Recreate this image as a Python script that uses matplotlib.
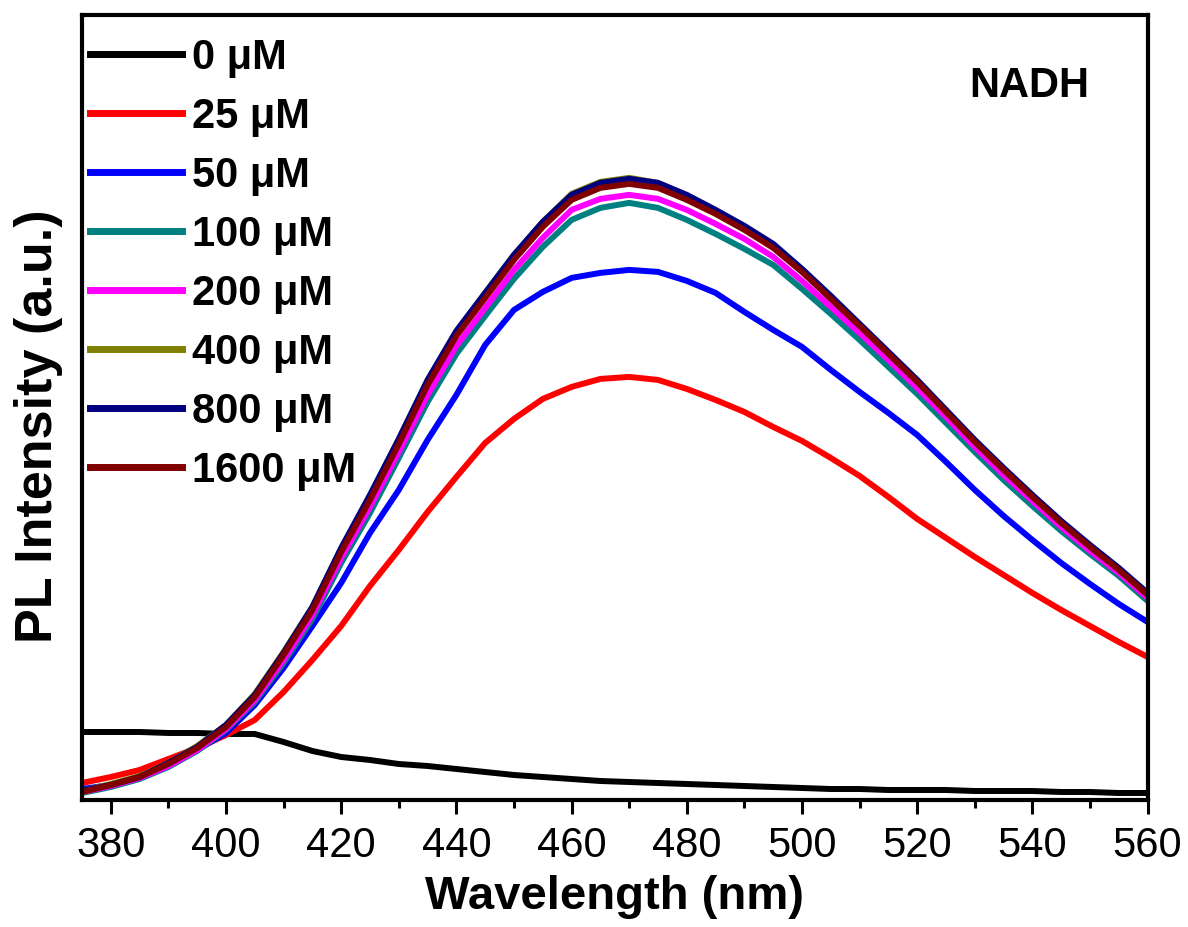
import matplotlib
matplotlib.use('Agg')
import matplotlib.pyplot as plt
from matplotlib.ticker import MultipleLocator

plt.rcParams['font.family'] = ['Liberation Sans', 'DejaVu Sans']

wavelength = [375, 380, 385, 390, 395, 400, 405, 410, 415, 420, 425, 430, 435,
              440, 445, 450, 455, 460, 465, 470, 475, 480, 485, 490, 495, 500,
              505, 510, 515, 520, 525, 530, 535, 540, 545, 550, 555, 560]

pl_0 = [68, 68, 68, 67, 67, 66, 66, 58, 49, 43, 40, 36, 34, 31, 28, 25, 23, 21, 19,
        18, 17, 16, 15, 14, 13, 12, 11, 11, 10, 10, 10, 9, 9, 9, 8, 8, 7, 7]
pl_25 = [17, 23, 30, 41, 52, 65, 80, 108, 140, 174, 214, 250, 288, 323, 357, 381,
         401, 413, 421, 423, 420, 411, 400, 388, 373, 359, 342, 324, 303, 281, 262,
         243, 225, 207, 190, 174, 158, 143]
pl_50 = [11, 15, 22, 34, 50, 67, 95, 132, 174, 217, 267, 310, 360, 405, 455, 490,
         508, 522, 527, 530, 528, 519, 507, 488, 470, 453, 430, 408, 387, 365, 338,
         310, 284, 260, 237, 216, 196, 178]
pl_100 = [7, 13, 21, 33, 49, 70, 98, 137, 181, 237, 287, 342, 398, 446, 484, 521,
          553, 580, 592, 597, 592, 580, 566, 551, 535, 511, 486, 460, 433, 406, 377,
          348, 320, 294, 269, 246, 224, 199]
pl_200 = [8, 14, 22, 34, 50, 71, 100, 140, 185, 242, 293, 348, 405, 454, 492, 530,
          562, 590, 601, 605, 601, 590, 576, 561, 543, 519, 493, 467, 440, 412, 383,
          353, 325, 299, 273, 249, 227, 202]
pl_400 = [9, 16, 24, 37, 54, 75, 106, 148, 193, 251, 304, 360, 419, 468, 507, 545,
          578, 606, 618, 622, 617, 604, 589, 573, 555, 530, 503, 475, 447, 419, 389,
          359, 331, 304, 278, 254, 231, 206]
pl_800 = [9, 15, 23, 37, 53, 75, 105, 147, 193, 252, 305, 361, 420, 469, 507, 545,
          578, 605, 617, 621, 617, 605, 590, 574, 556, 531, 504, 476, 448, 420, 390,
          360, 332, 305, 279, 255, 232, 207]
pl_1600 = [8, 15, 23, 36, 52, 73, 103, 145, 190, 248, 300, 356, 415, 464, 502, 540,
           573, 600, 612, 616, 612, 600, 586, 570, 552, 528, 501, 474, 446, 418, 388,
           358, 330, 303, 277, 253, 230, 205]

labels = ['0 μM', '25 μM', '50 μM', '100 μM', '200 μM', '400 μM', '800 μM', '1600 μM']
colors = ['#000000', '#FF0000', '#0000FF', '#008080', '#FF00FF', '#808000',
          '#000080', '#800000']
series = [pl_0, pl_25, pl_50, pl_100, pl_200, pl_400, pl_800, pl_1600]

fig = plt.figure(figsize=(11.88, 9.27), dpi=100)
ax = fig.add_axes([0.069, 0.137, 0.897, 0.847])

for y, c, lab in zip(series, colors, labels):
    ax.plot(wavelength, y, color=c, lw=4.3, label=lab)

ax.set_xlim(375, 560)
ax.set_ylim(0, 785)

ax.xaxis.set_major_locator(MultipleLocator(20))
ax.xaxis.set_minor_locator(MultipleLocator(10))
ax.tick_params(axis='x', which='major', direction='out', length=10, width=2.2,
               labelsize=30, pad=8.5)
ax.tick_params(axis='x', which='minor', direction='out', length=6, width=2.2)
ax.set_yticks([])
for s in ax.spines.values():
    s.set_linewidth(3)

ax.set_xlabel('Wavelength (nm)', fontsize=34, fontweight='bold', labelpad=7)
ax.set_ylabel('PL Intensity (a.u.)', fontsize=37.5, fontweight='bold')
ax.yaxis.set_label_coords(-0.018, 0.476)

ax.text(0.889, 0.909, 'NADH', transform=ax.transAxes, fontsize=30,
        fontweight='bold', ha='center', va='center')

leg = ax.legend(loc='upper left', bbox_to_anchor=(0.0075, 0.9705), frameon=False,
                prop={'size': 30, 'weight': 'bold'}, handlelength=2.2,
                handletextpad=0.25, labelspacing=0.455, borderpad=0,
                borderaxespad=0)
for line in leg.get_lines():
    line.set_linewidth(5)

plt.savefig('out.png', dpi=100)
